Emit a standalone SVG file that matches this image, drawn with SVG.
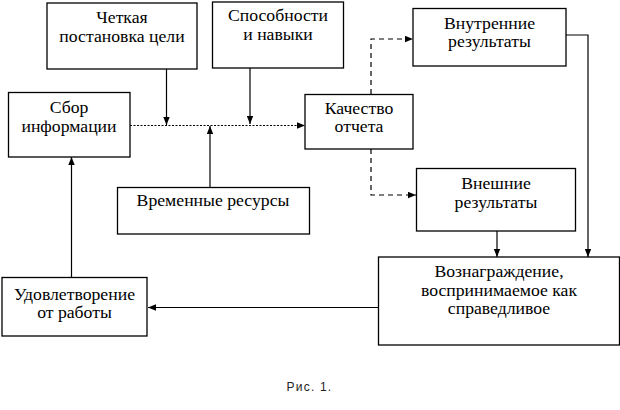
<svg xmlns="http://www.w3.org/2000/svg" width="620" height="410" viewBox="0 0 620 410">
<style>
.box{fill:#fff;stroke:#000;stroke-width:1.3}
.t{font-family:"Liberation Serif","Times New Roman",serif;font-size:17.7px;fill:#000;text-anchor:middle}
.ln{fill:none;stroke:#000;stroke-width:1.2}
.dot{stroke-dasharray:2,1.5}
.dash{stroke-dasharray:5,4}
.cap{font-family:"Liberation Sans",Arial,sans-serif;font-size:12px;letter-spacing:1.2px;fill:#222;text-anchor:middle}
</style>
<defs>
<marker id="ah" viewBox="0 0 10 8" refX="10" refY="4" markerWidth="8" markerHeight="7" markerUnits="userSpaceOnUse" orient="auto">
<path d="M0,0 L10,4 L0,8 Z" fill="#000"/>
</marker>
</defs>
<rect width="620" height="410" fill="#fff"/>
<g id="connectors">
<line class="ln" x1="166.5" y1="69" x2="166.5" y2="125" marker-end="url(#ah)"/>
<line class="ln" x1="250" y1="68" x2="250" y2="124" marker-end="url(#ah)"/>
<line class="ln" x1="210" y1="187" x2="210" y2="126" marker-end="url(#ah)"/>
<line class="ln dot" x1="130" y1="125.5" x2="305" y2="125.5" marker-end="url(#ah)"/>
<polyline class="ln dash" points="371,94 371,39 413,39" marker-end="url(#ah)"/>
<polyline class="ln dash" points="371,149 371,195 416,195" marker-end="url(#ah)"/>
<polyline class="ln" points="566,35 588,35 588,257" marker-end="url(#ah)"/>
<line class="ln" x1="497" y1="231" x2="497" y2="257" marker-end="url(#ah)"/>
<line class="ln" x1="378" y1="307.5" x2="148" y2="307.5" marker-end="url(#ah)"/>
<line class="ln" x1="71.5" y1="277" x2="71.5" y2="157" marker-end="url(#ah)"/>
</g>
<g id="goal">
<rect class="box" x="47" y="3" width="150" height="66"/>
<text class="t" x="122" y="23">Четкая</text>
<text class="t" x="122" y="42">постановка цели</text>
</g>
<g id="skills">
<rect class="box" x="212.5" y="2" width="131" height="66"/>
<text class="t" x="278" y="21">Способности</text>
<text class="t" x="278" y="39.5">и навыки</text>
</g>
<g id="info">
<rect class="box" x="8.5" y="92.5" width="121.5" height="64.5"/>
<text class="t" x="69" y="113">Сбор</text>
<text class="t" x="69" y="131.5">информации</text>
</g>
<g id="time">
<rect class="box" x="117.5" y="187.5" width="192" height="46.5"/>
<text class="t" x="213" y="206">Временные ресурсы</text>
</g>
<g id="quality">
<rect class="box" x="305" y="94.5" width="108" height="54.5"/>
<text class="t" x="359" y="113.5">Качество</text>
<text class="t" x="359" y="132">отчета</text>
</g>
<g id="internal">
<rect class="box" x="413" y="8.5" width="153" height="57.5"/>
<text class="t" x="489.5" y="28.5">Внутренние</text>
<text class="t" x="489.5" y="47">результаты</text>
</g>
<g id="external">
<rect class="box" x="416.5" y="168.5" width="159" height="62.5"/>
<text class="t" x="496" y="188.5">Внешние</text>
<text class="t" x="496" y="207.5">результаты</text>
</g>
<g id="reward">
<rect class="box" x="378.5" y="257" width="241" height="88"/>
<text class="t" x="499" y="277">Вознаграждение,</text>
<text class="t" x="499" y="295.5">воспринимаемое как</text>
<text class="t" x="499" y="314">справедливое</text>
</g>
<g id="satisfaction">
<rect class="box" x="2" y="277.5" width="145" height="58.5"/>
<text class="t" x="74.5" y="299.5">Удовлетворение</text>
<text class="t" x="74.5" y="318">от работы</text>
</g>
<text class="cap" x="309.5" y="391">Рис. 1.</text>
</svg>
